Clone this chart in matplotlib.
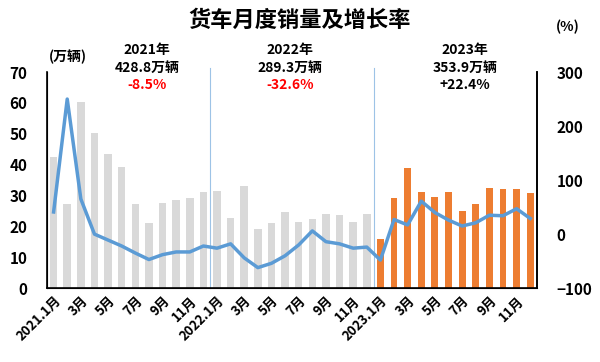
import matplotlib
matplotlib.use("Agg")
import matplotlib.pyplot as plt
import numpy as np

plt.rcParams['font.family'] = ['Noto Sans CJK SC', 'DejaVu Sans']
plt.rcParams['font.weight'] = 'bold'

# monthly truck sales (10k units), 2021.1 - 2023.12
sales_2021 = [42.4, 27.4, 60.3, 50.1, 43.6, 39.3, 27.4, 21.0, 27.6, 28.5, 29.1, 31.0]
sales_2022 = [31.4, 22.6, 33.2, 19.0, 21.0, 24.6, 21.5, 22.4, 23.9, 23.7, 21.5, 23.9]
sales_2023 = [15.9, 29.1, 39.0, 31.1, 29.4, 31.1, 25.0, 27.1, 32.6, 32.1, 32.0, 30.9]

# year-on-year growth (%)
growth = [41, 250, 65, 0, -11, -22, -35, -47, -38, -33, -33, -22,
          -26, -18, -44, -62, -54, -40, -20, 6, -14, -18, -26, -24,
          -48, 27, 17, 61, 40, 26, 15, 21, 35, 34, 47, 29]

tick_labels = ['2021.1月', '3月', '5月', '7月', '9月', '11月',
               '2022.1月', '3月', '5月', '7月', '9月', '11月',
               '2023.1月', '3月', '5月', '7月', '9月', '11月']

year_notes = [('2021年', '428.8万辆', '-8.5%', 'red'),
              ('2022年', '289.3万辆', '-32.6%', 'red'),
              ('2023年', '353.9万辆', '+22.4%', 'black')]

gray = '#D9D9D9'
orange = '#ED7D31'
blue = '#5B9BD5'

fig = plt.figure(figsize=(6, 3.62), dpi=100)
ax = fig.add_axes([0.078, 0.204, 0.817, 0.597])

x_old = np.arange(24)
x_new = np.arange(24, 36)
ax.bar(x_old, sales_2021 + sales_2022, width=0.55, color=gray, zorder=2)
ax.bar(x_new, sales_2023, width=0.5, color=orange, zorder=2)
ax.set_xlim(-0.5, 35.5)
ax.set_ylim(0, 70)
ax.set_yticks(np.arange(0, 71, 10))
ax.tick_params(axis='y', length=0, pad=14, labelsize=11)
ax.set_xticks(np.arange(0, 36, 2))
ax.set_xticklabels(tick_labels, rotation=45, ha='right', rotation_mode='anchor', fontsize=9.5)
ax.tick_params(axis='x', length=0, pad=4)
ax.spines['top'].set_visible(False)
for s in ['left', 'bottom', 'right']:
    ax.spines[s].set_linewidth(1.2)

# year separators, reaching a little above the plot area
for xv in [11.5, 23.5]:
    ax.axvline(xv, ymin=0, ymax=1.02, color='#9DC3E6', lw=0.8, zorder=1, clip_on=False)

ax2 = ax.twinx()
ax2.plot(np.arange(36), growth, color=blue, lw=2.5, zorder=3)
ax2.set_ylim(-100, 300)
ax2.set_yticks([-100, 0, 100, 200, 300])
ax2.tick_params(axis='y', length=0, pad=14, labelsize=11)
ax2.spines['top'].set_visible(False)
ax2.spines['right'].set_linewidth(1.2)

fig.text(0.5, 0.945, '货车月度销量及增长率', ha='center', va='center', fontsize=16, fontweight='bold')
fig.text(0.113, 0.842, '(万辆)', ha='center', va='center', fontsize=10)
fig.text(0.947, 0.925, '(%)', ha='center', va='center', fontsize=10)

for cx, (yr, tot, pct, c) in zip([0.245, 0.483, 0.775], year_notes):
    fig.text(cx, 0.862, yr, ha='center', va='center', fontsize=10)
    fig.text(cx, 0.812, tot, ha='center', va='center', fontsize=10)
    fig.text(cx, 0.765, pct, ha='center', va='center', fontsize=10, color=c)

fig.savefig('out.png', dpi=100)
